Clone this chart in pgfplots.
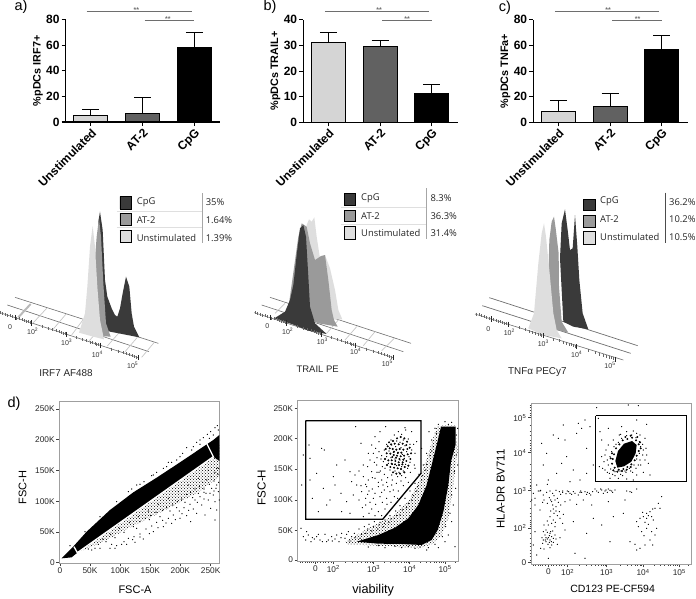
\documentclass[border=0pt]{standalone}
\usepackage{fontspec}
\setmainfont{Liberation Sans}
\newfontfamily\legfont{Open Sans}
\usepackage{pgfplots}
\usepackage{pgfplotstable}
\usetikzlibrary{patterns}
\pgfplotsset{compat=1.18}
\newcommand{\fs}[1]{\fontsize{#1}{#1}\selectfont}
\definecolor{hdark}{HTML}{3A3A3A}
\definecolor{hmid}{HTML}{9A9A9A}
\definecolor{hlight}{HTML}{DEDEDE}
\definecolor{gline}{HTML}{6E6E6E}

% minor and major ticks of the histogram axis, panel a frame
\pgfplotstableread{
x y
0 398
8 400.6
15 402.9
22 405.2
30 407.8
38 410.4
50 414.3
58 416.9
66 419.5
72 421.5
78 423.4
84 425.4
90 427.3
127 439.4
145 445.3
158 449.5
168 452.8
177 455.7
184 458
190 459.9
195 461.6
230 473
248 478.8
260 482.8
270 486
278 488.6
285 490.9
290 492.5
295 494.2
335 507.2
355 513.7
369 518.3
380 521.9
389 524.8
397 527.4
404 529.7
410 531.7
}\minorticks
\pgfplotstableread{
x y
45 412.7
95 429
200 463.2
300 495.8
415 533.3
}\majorticks

\pgfplotsset{
  baraxis/.style={
    scale only axis, width=154.3pt, height=102.5pt, clip=false,
    axis x line*=bottom, axis y line*=left,
    axis line style={-, line width=1.1pt},
    tick style={black, line width=1.1pt}, major tick length=4pt, tick align=outside,
    xmin=-0.487, xmax=2.497, ymin=0,
    xtick={0,1,2}, xticklabels={Unstimulated,AT-2,CpG},
    xticklabel style={rotate=45, anchor=north east, font=\bfseries\fs{12}, inner sep=1pt},
    yticklabel style={font=\bfseries\fs{12}, /pgf/number format/assume math mode=true, inner sep=2pt},
    ylabel style={font=\bfseries\fs{10.8}, at={(axis description cs:-0.18,0.5)}, anchor=center},
  },
  onebar/.style={ybar, bar shift=0pt, bar width=34pt, draw=black, line width=1pt, fill=#1,
    error bars/.cd, y dir=plus, y explicit,
    error bar style={line width=1pt, black},
    error mark options={rotate=90, mark size=8.5pt, line width=1pt, black}},
  sig/.style={gline, line width=0.7pt, forget plot},
  hist/.style={
    scale only axis, axis lines=none, clip=false, y dir=reverse,
    unbounded coords=jump, ymin=0, ymax=600, xmin=0, height=200pt},
  gridl/.style={gline, line width=0.6pt},
  rung/.style={gray!45, line width=0.7pt},
  mintick/.style={only marks, mark=|, mark size=1.5pt, black!60, line width=0.35pt},
  majtick/.style={only marks, mark=|, mark size=2.6pt, black!85, line width=0.7pt},
  swatch/.style={draw=black, line width=0.7pt, fill=#1},
  hfill/.style={draw=none, fill=#1},
  hpat/.style={draw=none, pattern=crosshatch dots, pattern color=black},
  flow/.style={
    scale only axis, clip=true, y dir=reverse,
    axis line style={gray!75, line width=0.9pt},
    tick style={black!75, line width=0.5pt}, tick align=outside,
    major tick length=3pt, minor tick length=1.5pt,
    xtick pos=bottom, ytick pos=left,
    ticklabel style={font=\fs{8.3}, text=black!85, inner sep=1.5pt},
  },
  dot/.style={only marks, mark=*, mark size=0.36pt, mark options={draw=none, fill=black}},
  bdot/.style={only marks, mark=*, mark size=0.8pt, mark options={draw=none, fill=black}},
  gdot/.style={only marks, mark=*, mark size=0.36pt, mark options={draw=none, fill=black!55}},
}

\begin{document}
\begin{tikzpicture}[x=1pt,y=1pt]
\path[use as bounding box] (0,0) rectangle (696,598);

% panel letters
\node[font=\fs{14.5}] at (21,591) {a)};
\node[font=\fs{14.5}] at (270,591) {b)};
\node[font=\fs{14.5}] at (505,590.5) {c)};
\node[font=\fs{14.5}] at (14,194) {d)};

% ---- bars a
\begin{axis}[baraxis, at={(65.7pt,476pt)}, anchor=south west, ymax=80, ytick={0,20,40,60,80}, ylabel={\%pDCs IRF7+}]
\addplot[onebar={gray!33}] coordinates {(0,5.3) +- (0,4.7)};
\addplot[onebar={black!62}] coordinates {(1,6.3) +- (0,12.7)};
\addplot[onebar={black}] coordinates {(2,58.5) +- (0,11.5)};
\addplot[sig] coordinates {(-0.08,86.5)(1.95,86.5)};
\addplot[sig] coordinates {(1.04,79.5)(1.99,79.5)};
\node[gline,font=\bfseries\fs{7}] at (axis cs:0.88,87.3) {**};
\node[gline,font=\bfseries\fs{7}] at (axis cs:1.49,80.2) {**};
\end{axis}
% ---- bars b
\begin{axis}[baraxis, at={(303.3pt,475.7pt)}, anchor=south west, ymax=40, ytick={0,10,20,30,40}, ylabel={\%pDCs TRAIL+}]
\addplot[onebar={gray!33}] coordinates {(0,31) +- (0,4)};
\addplot[onebar={black!62}] coordinates {(1,29.7) +- (0,2.1)};
\addplot[onebar={black}] coordinates {(2,11.2) +- (0,3.6)};
\addplot[sig] coordinates {(-0.07,43.4)(1.95,43.4)};
\addplot[sig] coordinates {(1.04,39.7)(2,39.7)};
\node[gline,font=\bfseries\fs{7}] at (axis cs:0.98,43.8) {**};
\node[gline,font=\bfseries\fs{7}] at (axis cs:1.52,40.1) {**};
\end{axis}
% ---- bars c
\begin{axis}[baraxis, at={(533.3pt,475.7pt)}, anchor=south west, ymax=80, ytick={0,20,40,60,80}, ylabel={\%pDCs TNFa+}]
\addplot[onebar={gray!33}] coordinates {(0,8.8) +- (0,8.2)};
\addplot[onebar={black!62}] coordinates {(1,12) +- (0,10.5)};
\addplot[onebar={black}] coordinates {(2,57) +- (0,10.5)};
\addplot[sig] coordinates {(-0.07,86.8)(1.95,86.8)};
\addplot[sig] coordinates {(1.04,79.5)(2,79.5)};
\node[gline,font=\bfseries\fs{7}] at (axis cs:0.96,87.6) {**};
\node[gline,font=\bfseries\fs{7}] at (axis cs:1.53,80.2) {**};
\end{axis}

% ---- histogram a (axis units: 1/3 px from the panel corner)
\begin{axis}[hist, at={(0pt,218pt)}, anchor=south west, width=240pt, xmax=720]
\addplot[gridl] coordinates {(45,352)(475,490)};
\addplot[gridl] coordinates {(22,375)(447,515)};
\addplot[rung] coordinates {(100,428)(140,385)(nan,nan)(160,447)(200,400)(nan,nan)(215,465)(250,418)(nan,nan)(268,482)(305,440)(nan,nan)(322,498)(360,455)(nan,nan)(375,515)(412,472)(nan,nan)(425,532)(462,488)};
\addplot[gray!55, line width=2pt] coordinates {(55,412)(92,372)};
\addplot[gridl] coordinates {(0,398)(415,533)};
\addplot[mintick] table[x=x,y=y] {\minorticks};
\addplot[majtick] table[x=x,y=y] {\majorticks};
\addplot[hfill=hdark] coordinates {(295,125)(300,95)(308,150)(315,300)(322,350)(335,385)(345,405)(352,410)(360,385)(368,340)(378,290)(388,320)(395,400)(402,440)(418,472)(330,455)(300,440)};
\addplot[hfill=hmid] coordinates {(262,440)(280,300)(290,170)(297,115)(303,170)(310,310)(318,430)(332,470)(300,468)};
\addplot[hfill=hlight] coordinates {(237,458)(255,400)(262,320)(270,200)(278,138)(285,200)(292,320)(300,420)(312,478)(280,470)};
\addplot[swatch=hdark] coordinates {(360,50)(395,50)(395,87)(360,87)(360,50)};
\addplot[swatch=hmid] coordinates {(360,100)(395,100)(395,135)(360,135)(360,100)};
\addplot[swatch=hlight] coordinates {(360,150)(395,150)(395,187)(360,187)(360,150)};
\addplot[gray!70, line width=0.8pt] coordinates {(607,40)(607,190)};
\addplot[gray!25, line width=0.4pt] coordinates {(350,93)(605,93)(nan,nan)(350,143)(605,143)};
\begin{scope}[font=\legfont\fs{9.4}, text=black!85]
\node[anchor=west,inner sep=0] at (410,67) {CpG};
\node[anchor=west,inner sep=0] at (410,119) {AT-2};
\node[anchor=west,inner sep=0] at (410,173) {Unstimulated};
\node[anchor=west,inner sep=0] at (617,67) {35\%};
\node[anchor=west,inner sep=0] at (617,119) {1.64\%};
\node[anchor=west,inner sep=0] at (617,173) {1.39\%};
\end{scope}
\begin{scope}[font=\fs{7}, text=black!80]
\node at (30,440) {0};
\node at (98,455) {10\textsuperscript{2}};
\node at (200,487) {10\textsuperscript{3}};
\node at (292,522) {10\textsuperscript{4}};
\node at (398,555) {10\textsuperscript{5}};
\end{scope}
\node[font=\fs{9.9}, text=black!85] at (198,578) {IRF7 AF488};
\end{axis}

% ---- histogram b
\begin{axis}[hist, at={(235pt,218pt)}, anchor=south west, width=230pt, xmax=690]
\addplot[gridl] coordinates {(105,352)(528,490)};
\addplot[gridl] coordinates {(80,375)(505,515)};
\addplot[rung] coordinates {(120,400)(150,370)(nan,nan)(275,460)(310,420)(nan,nan)(330,480)(365,440)(nan,nan)(385,497)(420,455)(nan,nan)(440,512)(478,475)};
\addplot[gridl] coordinates {(58,398)(475,533)};
\addplot[mintick] table[x expr=\thisrow{x}+60, y expr=\thisrow{y}] {\minorticks};
\addplot[majtick] table[x expr=\thisrow{x}+60, y expr=\thisrow{y}] {\majorticks};
\addplot[hfill=hlight] coordinates {(170,370)(215,135)(222,118)(230,125)(238,112)(245,170)(255,235)(270,225)(285,265)(300,330)(310,390)(322,418)(250,420)};
\addplot[hfill=hmid] coordinates {(160,385)(190,170)(200,130)(215,140)(225,190)(240,240)(258,228)(270,225)(280,300)(290,390)(297,420)(308,440)(250,430)};
\addplot[hfill=hdark] coordinates {(118,415)(150,395)(165,360)(175,315)(185,225)(195,145)(205,135)(213,170)(220,290)(225,380)(240,430)(275,462)(220,452)(170,432)};
\addplot[swatch=hdark] coordinates {(328,40)(362,40)(362,76)(328,76)(328,40)};
\addplot[swatch=hmid] coordinates {(328,90)(362,90)(362,125)(328,125)(328,90)};
\addplot[swatch=hlight] coordinates {(328,140)(362,140)(362,177)(328,177)(328,140)};
\addplot[gray!70, line width=0.8pt] coordinates {(575,25)(575,178)};
\addplot[gray!25, line width=0.4pt] coordinates {(318,82)(573,82)(nan,nan)(318,132)(573,132)};
\begin{scope}[font=\legfont\fs{9.4}, text=black!85]
\node[anchor=west,inner sep=0] at (378,55) {CpG};
\node[anchor=west,inner sep=0] at (378,107) {AT-2};
\node[anchor=west,inner sep=0] at (378,160) {Unstimulated};
\node[anchor=west,inner sep=0] at (586,55) {8.3\%};
\node[anchor=west,inner sep=0] at (586,107) {36.3\%};
\node[anchor=west,inner sep=0] at (586,160) {31.4\%};
\end{scope}
\begin{scope}[font=\fs{7}, text=black!80]
\node at (97,438) {0};
\node at (158,453) {10\textsuperscript{2}};
\node at (262,483) {10\textsuperscript{3}};
\node at (362,515) {10\textsuperscript{4}};
\node at (457,550) {10\textsuperscript{5}};
\end{scope}
\node[font=\fs{9.5}, text=black!85] at (248,567) {TRAIL PE};
\end{axis}

% ---- histogram c
\begin{axis}[hist, at={(460pt,218pt)}, anchor=south west, width=236pt, xmax=708]
\addplot[gridl, line width=0.7pt] coordinates {(88,353)(533,497)};
\addplot[gridl, line width=0.7pt] coordinates {(67,377)(512,520)};
\addplot[gridl] coordinates {(45,402)(490,540)};
\addplot[mintick] table[x expr=\thisrow{x}+50, y expr=\thisrow{y}+4] {\minorticks};
\addplot[majtick] table[x expr=\thisrow{x}+50, y expr=\thisrow{y}+4] {\majorticks};
\addplot[hfill=hdark] coordinates {(300,235)(305,130)(315,88)(323,150)(330,210)(338,205)(345,105)(352,200)(358,300)(368,400)(385,448)(340,440)(310,425)};
\addplot[hfill=hmid] coordinates {(262,420)(268,180)(275,125)(282,110)(287,145)(296,220)(297,320)(305,425)(325,458)(290,450)};
\addplot[hfill=hlight] coordinates {(205,445)(222,400)(235,250)(245,160)(252,130)(258,170)(268,270)(280,400)(290,450)(305,475)(250,465)};
\addplot[swatch=hdark] coordinates {(370,57)(405,57)(405,92)(370,92)(370,57)};
\addplot[swatch=hmid] coordinates {(370,105)(405,105)(405,142)(370,142)(370,105)};
\addplot[swatch=hlight] coordinates {(370,155)(405,155)(405,192)(370,192)(370,155)};
\addplot[black!70, line width=0.8pt] coordinates {(616,38)(616,190)};
\begin{scope}[font=\legfont\fs{9.4}, text=black!85]
\node[anchor=west,inner sep=0] at (420,65) {CpG};
\node[anchor=west,inner sep=0] at (420,117) {AT-2};
\node[anchor=west,inner sep=0] at (420,172) {Unstimulated};
\node[anchor=west,inner sep=0] at (627,65) {36.2\%};
\node[anchor=west,inner sep=0] at (627,117) {10.2\%};
\node[anchor=west,inner sep=0] at (627,172) {10.5\%};
\end{scope}
\begin{scope}[font=\fs{7}, text=black!80]
\node at (85,447) {0};
\node at (148,458) {10\textsuperscript{2}};
\node at (250,490) {10\textsuperscript{3}};
\node at (350,522) {10\textsuperscript{4}};
\node at (450,557) {10\textsuperscript{5}};
\end{scope}
\node[font=\fs{9.9}, text=black!85] at (232,577) {TNFα PECy7};
\end{axis}

% ---- flow plot 1
\begin{axis}[flow, at={(59.33pt,34.67pt)}, anchor=south west, width=160pt, height=161.67pt,
  xmin=178, xmax=658, ymin=50, ymax=535,
  xtick={180,270,361,451,541,632}, xticklabels={0,50K,100K,150K,200K,250K},
  ytick={72,164,256,349,441,533}, yticklabels={250K,200K,150K,100K,50K,0},
  minor y tick num=4,
  xlabel={FSC-A}, ylabel={FSC-H},
  xlabel style={font=\fs{11}, at={(axis description cs:0.473,-0.165)}, anchor=center},
  ylabel style={font=\fs{11}, at={(axis description cs:-0.229,0.468)}, anchor=center}]
\addplot[hpat] coordinates {(240,500)(320,465)(400,422)(470,388)(540,352)(600,318)(650,280)(658,275)(658,180)(640,215)(232,503)};
\addplot[hfill=black] coordinates {(185,520)(215,490)(260,440)(330,375)(400,322)(470,278)(540,232)(610,185)(640,165)(658,150)(658,228)(640,215)(232,503)(215,517)};
\addplot[gdot] coordinates {(300,490)(285,490)(275,495)(330,490)(345,490)(335,478)(365,478)(385,460)(402,455)(420,447)(438,432)(455,423)(470,412)(488,406)(505,400)(520,390)(538,378)(552,368)(570,358)(585,345)(600,335)(618,325)(635,310)(650,300)(640,330)(625,345)(605,360)(580,372)(560,392)(540,400)(515,415)(490,425)(460,440)(430,462)(405,472)(380,478)(350,482)(645,350)(655,320)(650,375)(632,370)(615,390)(590,385)(572,410)(658,345)(630,325)(612,342)(592,352)(566,376)(546,386)(526,404)(498,414)(474,428)(448,446)(420,456)(398,464)(372,470)(612,322)(642,318)};
\addplot[dot] coordinates {(385,320)(410,300)(432,290)(455,272)(470,262)(490,250)(505,232)(515,232)(530,225)(548,205)(560,188)(575,195)(590,172)(600,165)(610,158)(622,148)(632,140)(645,128)(652,122)(655,135)(640,150)(628,160)(600,178)(580,185)(540,215)(500,245)(460,270)(420,298)(395,312)(350,350)(300,395)(255,440)(210,482)(645,405)(410,430)(448,404)(480,395)(510,378)(530,368)(555,352)(578,338)(595,325)(612,312)(628,298)(642,288)(420,410)(452,392)(488,376)(518,360)(545,342)(572,322)(598,305)(620,285)(645,262)(654,268)(634,275)(608,292)(585,312)(560,328)(532,350)(500,368)(468,382)(436,400)(400,425)(372,442)(345,458)(318,470)(295,478)(265,492)(308,462)(332,448)(358,430)(388,412)(415,395)(445,378)(475,358)(505,340)(535,320)(565,300)(595,280)(625,256)(650,250)(656,292)(648,310)(655,250)};
\addplot[white, line width=1.3pt] coordinates {(222,485)(232,503)(640,215)(615,165)};
\end{axis}

% ---- flow plot 2
\begin{axis}[flow, at={(297.67pt,37pt)}, anchor=south west, width=160.67pt, height=161pt,
  xmin=188, xmax=670, ymin=45, ymax=528,
  xtick={241,295,416,524,630}, xticklabels={0,10\textsuperscript{2},10\textsuperscript{3},10\textsuperscript{4},10\textsuperscript{5}},
  minor xtick={196,203,210,216,222,228,234,248,256,264,272,280,288,331,353,368,380,390,398,405,411,448,467,481,491,500,507,513,519,556,574,587,597,605,612,618,624,662},
  ytick={70,160,252,345,436,525}, yticklabels={250K,200K,150K,100K,50K,0},
  minor y tick num=4,
  xlabel={viability}, ylabel={FSC-H},
  xlabel style={font=\fs{12.7}, at={(axis description cs:0.47,-0.12)}, anchor=north},
  ylabel style={font=\fs{11.6}, at={(axis description cs:-0.224,0.457)}, anchor=center}]
\addplot[hpat] coordinates {(330,470)(400,430)(470,395)(520,350)(555,280)(585,190)(605,125)(618,122)(662,122)(668,200)(655,300)(640,400)(620,450)(590,478)(550,490)(430,482)(340,478)};
\addplot[hfill=black] coordinates {(365,470)(430,450)(480,428)(520,400)(550,360)(575,300)(590,240)(605,180)(618,125)(662,125)(662,178)(648,230)(640,300)(625,380)(608,435)(590,465)(560,480)(500,477)(430,476)};
\addplot[bdot] coordinates {(462,172)(474,168)(486,160)(497,156)(508,160)(516,170)(458,184)(468,178)(479,176)(491,178)(503,176)(514,180)(524,188)(452,192)(464,190)(473,192)(484,194)(494,192)(505,194)(517,192)(528,205)(455,205)(466,206)(476,210)(486,212)(497,214)(507,212)(518,208)(450,222)(460,226)(470,226)(481,228)(491,232)(503,232)(514,228)(526,222)(456,240)(466,246)(477,248)(488,250)(498,252)(509,246)(520,242)(474,262)(484,266)(495,266)(508,262)(477,200)(489,203)(499,203)(483,218)(493,222)(472,216)(505,224)(480,238)(492,240)(502,238)(470,236)};
\addplot[dot] coordinates {(490,140)(478,150)(500,148)(512,135)(468,165)(485,168)(495,172)(505,165)(520,162)(455,178)(470,180)(482,185)(498,188)(510,182)(525,178)(448,195)(462,198)(475,202)(488,205)(502,208)(515,200)(530,195)(440,212)(455,215)(468,218)(480,222)(495,225)(508,220)(522,215)(445,230)(460,235)(472,238)(485,242)(500,245)(512,238)(525,232)(450,250)(465,255)(480,258)(492,262)(505,258)(518,250)(470,270)(488,275)(500,272)(432,170)(422,190)(415,205)(405,225)(398,245)(425,240)(410,260)(432,262)(420,280)(400,285)(440,285)(455,292)(470,300)(385,275)(395,305)(412,312)(430,305)(448,315)(465,320)(478,335)(455,340)(435,335)(415,340)(398,328)(380,320)(365,300)(350,290)(372,345)(392,360)(410,372)(430,380)(450,372)(468,352)(488,340)(355,330)(335,350)(318,325)(300,300)(285,345)(265,310)(245,265)(225,220)(222,180)(260,190)(268,195)(305,240)(330,225)(345,260)(362,125)(378,175)(420,155)(435,140)(452,125)(510,128)(530,140)(545,170)(295,275)(275,360)(250,380)(232,340)(225,285)(320,380)(345,385)(385,395)(205,210)(200,300)(432,200)(438,222)(426,218)(418,232)(442,245)(436,258)(448,268)(458,278)(426,262)(412,278)(430,292)(444,300)(458,305)(472,285)(484,295)(498,288)(512,278)(526,262)(538,240)(540,205)(536,178)(392,298)(402,318)(420,325)(440,322)(405,352)(422,358)(442,352)(392,340)(378,302)(382,368)(402,385)(420,392)(440,392)(456,358)(475,315)(490,318)(505,302)(520,292)(360,270)(372,258)(385,240)(400,205)(410,180)};
\addplot[dot] coordinates {(198,430)(205,455)(212,465)(220,450)(228,470)(238,462)(245,455)(255,465)(262,470)(270,448)(280,465)(290,455)(300,462)(312,470)(320,445)(330,460)(340,440)(350,455)(358,445)(372,432)(388,425)(402,418)(418,410)(435,412)(450,405)(465,392)(482,378)(495,362)(510,340)(525,318)(540,295)(552,268)(565,240)(575,205)(590,165)(600,130)(582,140)(560,190)(540,250)(630,110)(650,112)(668,130)(668,240)(662,310)(655,360)(650,410)(640,450)(630,470)(610,488)(575,495)(540,490)(500,488)(450,488)(400,486)(660,485)(375,460)(392,445)(410,438)(428,432)(445,425)(462,412)(478,400)(495,390)(515,368)(530,345)(545,318)(560,285)(572,255)(585,212)(595,185)(318,458)(305,450)(292,468)(275,470)(250,448)(232,458)(215,440)(335,448)(345,468)(360,458)(380,448)(398,432)(415,424)(432,420)(448,415)(468,402)(485,392)(502,375)(520,355)(535,332)(548,305)(562,272)(575,238)(590,198)(605,145)(610,118)(640,118)(664,150)(664,210)(658,260)(650,330)(645,385)(632,425)(622,455)(600,478)(580,488)(555,486)(520,484)(480,484)(430,482)};
\addplot[black, line width=1.3pt] coordinates {(212,107)(558,107)(558,265)(443,403)(212,403)(212,107)};
\end{axis}

% ---- flow plot 3
\begin{axis}[flow, at={(531pt,33.67pt)}, anchor=south west, width=160pt, height=161pt,
  xmin=183, xmax=663, ymin=55, ymax=538,
  xtick={235,293,410,519,628}, xticklabels={0,10\textsuperscript{2},10\textsuperscript{3},10\textsuperscript{4},10\textsuperscript{5}},
  minor xtick={190,197,204,211,218,225,243,251,259,267,275,283,328,350,365,377,386,394,400,406,452,471,484,495,503,510,515,520,553,571,584,594,602,609,615,621,655},
  ytick={98,203,317,430,533}, yticklabels={10\textsuperscript{5},10\textsuperscript{4},10\textsuperscript{3},10\textsuperscript{2},0},
  minor ytick={61,68,76,84,91,120,140,150,165,175,182,190,196,238,258,272,282,292,300,305,311,350,370,385,395,405,412,418,424,445,460,475,485,495,505,515,525},
  xlabel={CD123 PE-CF594}, ylabel={HLA-DR BV711},
  xlabel style={font=\fs{10.5}, at={(axis description cs:0.51,-0.11)}, anchor=north},
  ylabel style={font=\fs{11.4}, at={(axis description cs:-0.19,0.468)}, anchor=center}]
\addplot[hfill=black] coordinates {(436,228)(444,198)(462,176)(486,168)(500,180)(497,205)(484,230)(462,244)(442,248)};
\addplot[bdot] coordinates {(428,222)(432,208)(438,190)(448,178)(458,166)(472,162)(486,158)(498,166)(506,178)(506,198)(500,212)(494,226)(484,238)(472,246)(460,252)(446,254)(434,248)(426,236)(430,256)(442,260)(456,258)(470,254)(482,246)(422,220)(426,205)(502,156)(482,152)(466,156)(510,172)(512,190)};
\addplot[dot] coordinates {(420,215)(425,200)(432,185)(445,172)(455,160)(470,152)(485,150)(498,158)(508,170)(512,185)(508,205)(500,222)(492,240)(478,250)(465,258)(450,258)(435,260)(422,252)(415,240)(412,225)(405,210)(402,230)(418,265)(435,272)(452,268)(468,262)(482,258)(498,250)(512,240)(525,225)(530,210)(520,195)(518,178)(525,160)(510,150)(490,138)(470,140)(448,150)(430,165)(415,180)(408,195)(395,215)(388,245)(405,255)(420,280)(445,280)(470,282)(500,270)(520,262)(535,235)(540,270)(390,140)(415,130)(455,125)(530,118)(500,105)(475,60)(505,62)(380,68)(395,165)(490,285)(398,250)(412,262)(428,268)(510,225)(518,210)(528,190)(505,240)(488,262)(458,272)(438,178)(452,148)(500,145)};
\addplot[gdot] coordinates {(190,325)(195,340)(205,318)(212,316)(220,330)(230,322)(240,318)(248,325)(258,316)(268,320)(278,318)(288,326)(296,320)(305,328)(315,325)(325,330)(335,322)(345,320)(358,325)(368,320)(375,312)(385,322)(395,315)(405,318)(415,312)(425,318)(435,315)(470,318)(485,322)(500,312)(575,335)(222,345)(232,355)(245,350)(255,345)(265,352)(250,372)(272,360)(285,350)(300,345)(320,358)(340,345)(365,360)(210,375)(195,360)(240,395)(250,405)(262,392)(270,400)(235,420)(228,435)(240,445)(225,450)(235,458)(245,455)(255,450)(228,470)(238,472)(218,475)(250,472)(262,478)(240,488)(222,492)(212,490)(232,442)(248,438)(255,425)(278,415)(285,435)(245,415)(400,325)(412,322)(428,322)(380,318)(362,330)(350,328)(332,318)(310,320)(292,318)(272,328)(252,332)(238,338)(218,352)(258,365)(242,378)(268,380)(280,388)(256,412)(232,408)(222,420)(220,440)(216,458)(245,480)(258,462)(270,458)};
\addplot[dot] coordinates {(240,465)(232,462)(226,465)(238,452)(244,470)(234,478)(228,458)(250,460)(220,465)(242,440)(252,385)(258,378)(248,360)(242,345)(262,340)(278,322)(300,325)(330,322)(352,322)(392,312)(408,315)(420,316)(210,318)(185,345)(530,385)(540,380)(548,372)(555,370)(520,395)(510,400)(530,400)(545,395)(550,405)(525,412)(505,425)(515,440)(530,430)(545,440)(555,450)(540,465)(525,480)(510,490)(495,478)(480,470)(500,495)(565,355)(570,370)(548,480)(560,430)(220,240)(235,285)(232,298)(260,265)(275,235)(265,160)(285,165)(290,215)(310,255)(330,285)(300,290)(350,265)(370,240)(335,130)(325,115)(345,105)(320,145)(215,175)(230,205)(200,300)(250,150)(280,120)(350,190)(360,125)(385,100)(195,440)(190,480)(200,510)(235,520)(315,505)(345,520)(370,400)(395,420)(310,410)(350,445)(420,470)(465,345)(460,385)(415,350)(430,395)(480,320)(535,392)(518,382)(500,410)(535,418)(522,452)};
\addplot[black, line width=1.5pt] coordinates {(377,92)(650,92)(650,290)(377,290)(377,92)};
\end{axis}

\end{tikzpicture}
\end{document}
